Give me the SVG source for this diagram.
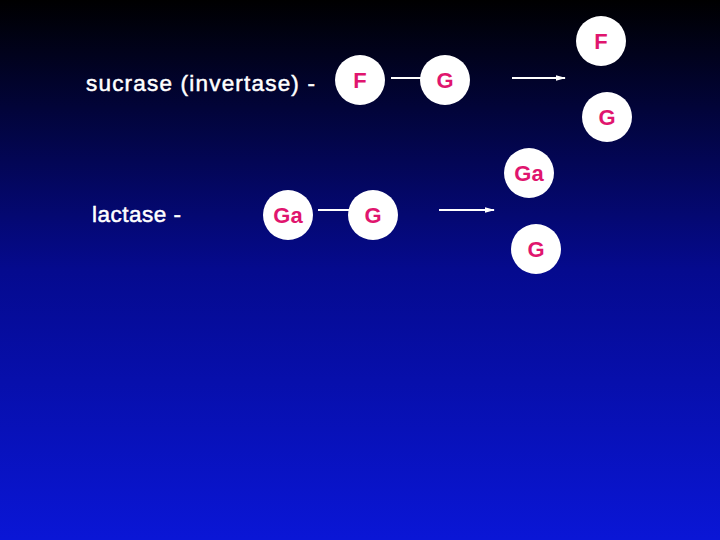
<svg xmlns="http://www.w3.org/2000/svg" width="720" height="540" viewBox="0 0 720 540">
<defs>
<linearGradient id="bg" x1="0" y1="0" x2="0" y2="1">
<stop offset="0" stop-color="#000000"/>
<stop offset="0.5" stop-color="#050a8e"/>
<stop offset="1" stop-color="#0a16d6"/>
</linearGradient>
<marker id="ah" markerWidth="10" markerHeight="8" refX="9" refY="4" orient="auto" markerUnits="userSpaceOnUse">
<path d="M0,1.2 L10,4 L0,6.8 z" fill="#ffffff"/>
</marker>
<style>
.c{fill:#ffffff}
.t{font-family:"Liberation Sans",Arial,sans-serif;font-size:22px;font-weight:bold;fill:#e0156e;text-anchor:middle}
.l{font-family:"Liberation Sans",Arial,sans-serif;font-size:22.5px;fill:#ffffff;stroke:#ffffff;stroke-width:0.5}
.ln{stroke:#ffffff;stroke-width:2;fill:none}
</style>
</defs>
<rect width="720" height="540" fill="url(#bg)"/>
<text class="l" x="86" y="91" textLength="229" lengthAdjust="spacing">sucrase (invertase) -</text>
<text class="l" x="92" y="222" textLength="89" lengthAdjust="spacing">lactase -</text>
<g id="connectors">
<line class="ln" x1="391" y1="78" x2="423" y2="78"/>
<line class="ln" x1="512" y1="78" x2="565" y2="78" marker-end="url(#ah)"/>
<line class="ln" x1="318" y1="210" x2="350" y2="210"/>
<line class="ln" x1="439" y1="210" x2="494" y2="210" marker-end="url(#ah)"/>
</g>
<g id="nF1"><circle class="c" cx="360" cy="80" r="25"/><text class="t" x="360" y="88">F</text></g>
<g id="nG1"><circle class="c" cx="445" cy="80" r="25"/><text class="t" x="445" y="88">G</text></g>
<g id="nF2"><circle class="c" cx="601" cy="41" r="25"/><text class="t" x="601" y="49">F</text></g>
<g id="nG2"><circle class="c" cx="607" cy="117" r="25"/><text class="t" x="607" y="125">G</text></g>
<g id="nGa1"><circle class="c" cx="288" cy="215" r="25"/><text class="t" x="288" y="223">Ga</text></g>
<g id="nG3"><circle class="c" cx="373" cy="215" r="25"/><text class="t" x="373" y="223">G</text></g>
<g id="nGa2"><circle class="c" cx="529" cy="173" r="25"/><text class="t" x="529" y="181">Ga</text></g>
<g id="nG4"><circle class="c" cx="536" cy="249" r="25"/><text class="t" x="536" y="257">G</text></g>
</svg>
